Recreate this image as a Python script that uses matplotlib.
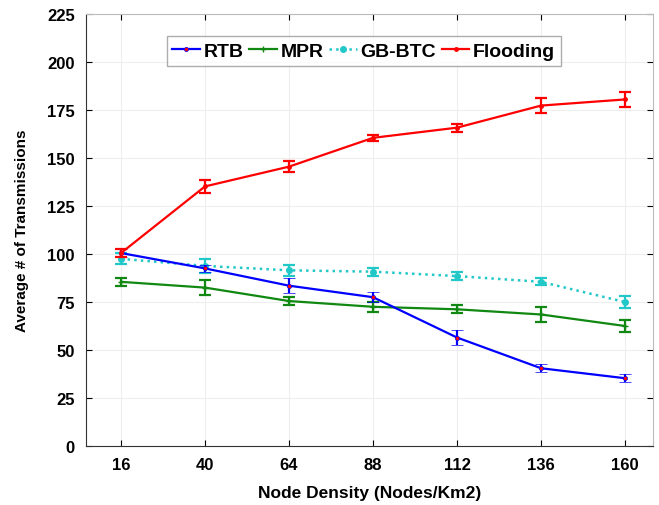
import numpy as np
import matplotlib
matplotlib.use("Agg")
import matplotlib.pyplot as plt
from matplotlib.lines import Line2D

plt.rcParams['font.family'] = ['Liberation Sans', 'DejaVu Sans']
plt.rcParams['font.weight'] = 'bold'

density = [16, 40, 64, 88, 112, 136, 160]

rtb = [100.5, 92.5, 83.5, 77.5, 56.5, 40.5, 35.3]
rtb_err = [2.2, 2.0, 4.0, 2.5, 4.0, 2.0, 2.0]

mpr = [85.5, 82.5, 75.5, 72.5, 71.2, 68.5, 62.5]
mpr_err = [2.0, 4.0, 2.2, 2.5, 2.0, 4.0, 3.0]

gbbtc = [97.5, 93.8, 91.5, 90.8, 88.5, 85.5, 75.0]
gbbtc_err = [2.8, 3.5, 3.0, 2.0, 2.0, 1.8, 3.0]

flooding = [100.5, 135.2, 145.5, 160.5, 165.8, 177.3, 180.5]
flooding_err = [2.0, 3.5, 3.0, 1.5, 2.0, 4.0, 4.0]

fig = plt.figure(figsize=(6.59, 5.06), dpi=100)
ax = fig.add_axes([86 / 659, 1 - 447 / 506, (653 - 86) / 659, (447 - 15) / 506])

styles = {
    'RTB': dict(color='#0000ff', lw=1.6, ls='-', marker='o', ms=3, mfc='#ff0000', mec='#0000ff', mew=0.5),
    'MPR': dict(color='#118811', lw=1.6, ls='-', marker='+', ms=5),
    'GB-BTC': dict(color='#22c8c8', lw=1.8, ls=':', marker='o', ms=4),
    'Flooding': dict(color='#ff0000', lw=1.6, ls='-', marker='.', ms=5),
}
series = [('RTB', rtb, rtb_err, 4), ('MPR', mpr, mpr_err, 3),
          ('GB-BTC', gbbtc, gbbtc_err, 3), ('Flooding', flooding, flooding_err, 4)]

for name, vals, err, z in series:
    st = styles[name]
    ax.errorbar(density, vals, yerr=err, capsize=4, capthick=1.6, elinewidth=1.6,
                zorder=z, **st)

ax.set_xlim(6, 168)
ax.set_ylim(0, 225)
ax.set_xticks(density)
ax.set_yticks(np.arange(0, 226, 25))
ax.grid(True, color='#eeeeee', lw=0.8, ls='-')
ax.set_axisbelow(True)

ax.tick_params(direction='in', length=4, labelsize=12, top=True, right=True)
ax.tick_params(axis='x', pad=8)
ax.tick_params(axis='y', pad=8)
for lab in ax.get_xticklabels() + ax.get_yticklabels():
    lab.set_fontweight('bold')
for side in ['top', 'right']:
    ax.spines[side].set_color('#bbbbbb')
ax.spines['left'].set_color('#333333')
ax.spines['bottom'].set_color('#333333')

ax.set_xlabel('Node Density (Nodes/Km2)', fontsize=12.5, fontweight='bold', labelpad=9)
ax.set_ylabel('Average # of Transmissions', fontsize=11, fontweight='bold', labelpad=13)

handles = [Line2D([], [], **styles[name]) for name, _, _, _ in series]
leg = ax.legend(handles, [s[0] for s in series], loc='upper center',
                bbox_to_anchor=(0.49, 0.948), ncol=4,
                frameon=True, fancybox=False, handlelength=1.4, handletextpad=0.2,
                columnspacing=0.3, borderpad=0.3, borderaxespad=0.0,
                prop={'weight': 'bold', 'size': 14})
leg.get_frame().set_edgecolor('#999999')
leg.get_frame().set_linewidth(1.0)

fig.savefig('out.png', dpi=100)
